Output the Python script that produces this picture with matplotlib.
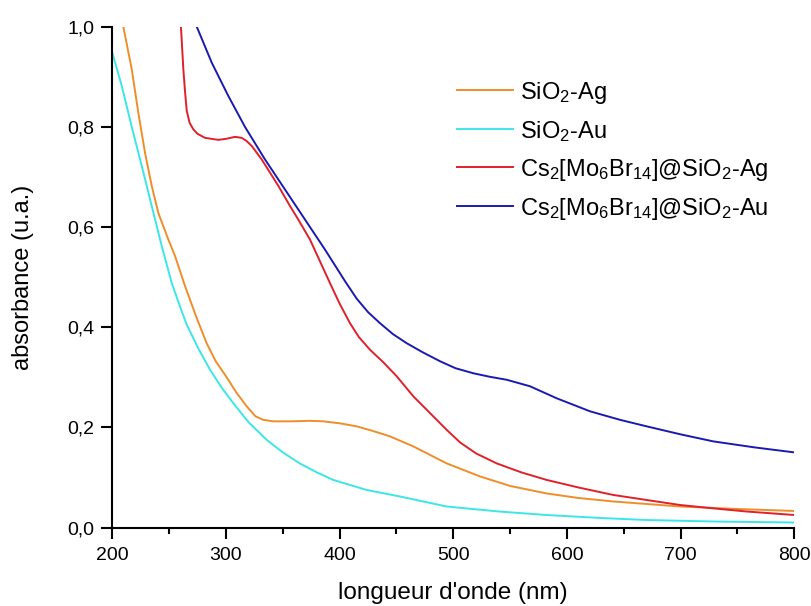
import matplotlib
matplotlib.use("Agg")
import matplotlib.pyplot as plt
from matplotlib.ticker import MultipleLocator, FuncFormatter

plt.rcParams['font.family'] = ['Liberation Sans', 'DejaVu Sans']
plt.rcParams['mathtext.fontset'] = 'custom'
plt.rcParams['mathtext.rm'] = 'Liberation Sans'
plt.rcParams['mathtext.it'] = 'Liberation Sans'
plt.rcParams['mathtext.default'] = 'regular'

# SiO2-Ag (orange)
ag_x = [205, 209.7, 217.1, 222.9, 228.8, 234.7, 240.5, 249.3, 255.2, 264, 274.3, 283,
        291, 300.6, 309, 318.2, 326, 332.8, 341.6, 356.3, 374, 385.6, 400.3, 415, 429,
        444.3, 464.8, 494.2, 523.5, 550, 582.2, 610, 640.8, 699.4, 750, 800]
ag_y = [1.08, 1.0, 0.915, 0.828, 0.748, 0.682, 0.628, 0.575, 0.542, 0.482, 0.418, 0.368,
        0.332, 0.30, 0.27, 0.242, 0.222, 0.215, 0.212, 0.212, 0.213, 0.212, 0.208, 0.202,
        0.193, 0.182, 0.162, 0.128, 0.102, 0.083, 0.068, 0.059, 0.052, 0.042, 0.037, 0.033]

# SiO2-Au (cyan)
au_x = [200, 208.3, 217.1, 225.9, 234.7, 243.5, 252.3, 261, 265.5, 276, 286, 296,
        306.5, 320, 335.8, 350, 365, 380, 394.4, 423.8, 453, 494, 540, 582, 630, 670,
        730, 800]
au_y = [0.948, 0.882, 0.80, 0.722, 0.642, 0.562, 0.488, 0.432, 0.405, 0.356, 0.315,
        0.28, 0.248, 0.21, 0.175, 0.15, 0.128, 0.11, 0.095, 0.075, 0.062, 0.042, 0.032,
        0.025, 0.019, 0.015, 0.012, 0.01]

# Cs2[Mo6Br14]@SiO2-Ag (red)
cag_x = [257.5, 260.4, 262.5, 264, 265.5, 268, 271.3, 275, 281.6, 293.3, 300, 308,
         313.8, 318, 322.6, 331.4, 346.1, 356.3, 363.6, 373.9, 382, 391.5, 400, 409.1,
         417, 426.7, 438.4, 450.2, 464.8, 473.6, 494.2, 505.9, 520, 538.2, 560, 582.2,
         610, 640.8, 670, 699.4, 730, 758, 800]
cag_y = [1.10, 1.0, 0.915, 0.87, 0.832, 0.808, 0.795, 0.786, 0.778, 0.774, 0.776, 0.780,
         0.778, 0.772, 0.762, 0.735, 0.682, 0.642, 0.615, 0.575, 0.535, 0.488, 0.447,
         0.408, 0.38, 0.355, 0.33, 0.302, 0.262, 0.242, 0.195, 0.170, 0.148, 0.128, 0.11,
         0.095, 0.08, 0.065, 0.055, 0.045, 0.038, 0.032, 0.025]

# Cs2[Mo6Br14]@SiO2-Au (blue)
cau_x = [270, 274.3, 287.5, 302, 316.7, 334.3, 351.9, 369.5, 387.1, 404.7, 415, 425,
         435.5, 447, 459, 473, 488.3, 502, 517.6, 532, 547, 567.5, 591, 620.3, 646.7,
         670.1, 700, 728.7, 765, 800]
cau_y = [1.06, 1.0, 0.928, 0.862, 0.80, 0.735, 0.675, 0.615, 0.555, 0.492, 0.457, 0.43,
         0.408, 0.386, 0.368, 0.35, 0.332, 0.318, 0.308, 0.301, 0.295, 0.282, 0.258, 0.232,
         0.215, 0.202, 0.186, 0.172, 0.16, 0.15]

labels = [r'SiO$_2$-Ag', r'SiO$_2$-Au',
          r'Cs$_2$[Mo$_6$Br$_{14}$]@SiO$_2$-Ag', r'Cs$_2$[Mo$_6$Br$_{14}$]@SiO$_2$-Au']
colors = ['#EE8E2A', '#3CE6E6', '#E0202A', '#1A1AB0']

x_ticks = [200, 300, 400, 500, 600, 700, 800]
y_ticks = [0.0, 0.2, 0.4, 0.6, 0.8, 1.0]

fig = plt.figure(figsize=(8.12, 6.06), dpi=100)
ax = fig.add_axes([0.1383, 0.1295, 0.8399, 0.8265])

for xs, ys, c, lab in zip([ag_x, au_x, cag_x, cau_x], [ag_y, au_y, cag_y, cau_y], colors, labels):
    ax.plot(xs, ys, color=c, lw=1.4, label=lab, solid_joinstyle='round')

ax.set_xlim(200, 800)
ax.set_ylim(0, 1.0)
ax.set_xticks(x_ticks)
ax.set_yticks(y_ticks)
ax.xaxis.set_minor_locator(MultipleLocator(50))
ax.yaxis.set_major_formatter(FuncFormatter(lambda v, p: f"{v:.1f}".replace('.', ',')))
ax.tick_params(axis='both', which='major', direction='out', length=8, width=1.5,
               labelsize=14, pad=5)
ax.tick_params(axis='x', which='major', pad=6)
ax.tick_params(axis='x', which='minor', direction='out', length=4, width=1.5)
ax.spines['top'].set_visible(False)
ax.spines['right'].set_visible(False)
ax.spines['left'].set_linewidth(1.5)
ax.spines['bottom'].set_linewidth(1.5)

ax.set_xlabel("longueur d'onde (nm)", fontsize=17.5, labelpad=13)
ax.set_ylabel("absorbance (u.a.)", fontsize=17, labelpad=24)

leg = ax.legend(loc='upper left', bbox_to_anchor=(0.505, 0.894), frameon=False,
                fontsize=17, handlelength=2.4, handletextpad=0.3, labelspacing=0.55,
                borderaxespad=0, borderpad=0)

fig.savefig('out.png', dpi=100)
